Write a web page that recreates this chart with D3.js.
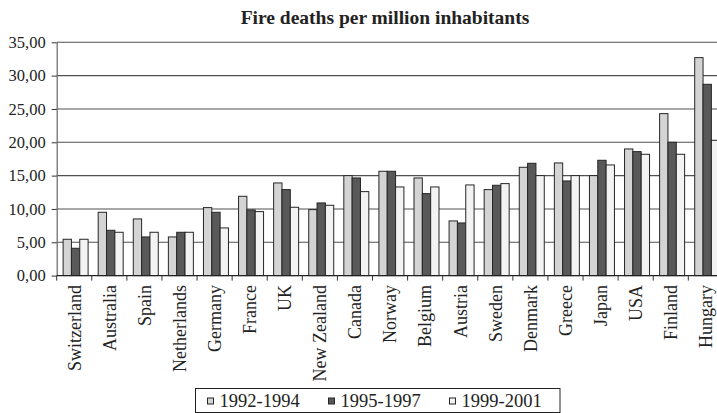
<!DOCTYPE html>
<html>
<head>
<meta charset="utf-8">
<script src="https://cdn.jsdelivr.net/npm/d3@7"></script>
<style>
  html, body { margin: 0; padding: 0; background: #fff; }
  svg { display: block; }
  svg text { font-family: "Liberation Serif", "DejaVu Serif", serif; }
</style>
</head>
<body>
<svg id="chart" width="717" height="413"></svg>
<script>
// Fire deaths per million inhabitants, three periods per country
const countries = ["Switzerland", "Australia", "Spain", "Netherlands", "Germany", "France", "UK",
  "New Zealand", "Canada", "Norway", "Belgium", "Austria", "Sweden", "Denmark", "Greece",
  "Japan", "USA", "Finland", "Hungary"];
const periods = ["1992-1994", "1995-1997", "1999-2001"];
const values1992 = [5.45, 9.5, 8.5, 5.8, 10.2, 11.9, 13.9, 9.9, 15.0, 15.65, 14.65, 8.2, 12.9, 16.25, 16.9, 15.0, 19.0, 24.3, 32.7];
const values1995 = [4.1, 6.8, 5.8, 6.5, 9.5, 9.85, 12.9, 10.9, 14.65, 15.65, 12.3, 7.9, 13.55, 16.85, 14.2, 17.3, 18.6, 20.0, 28.7];
const values1999 = [5.45, 6.5, 6.5, 6.5, 7.15, 9.6, 10.25, 10.55, 12.6, 13.3, 13.3, 13.6, 13.8, 15.0, 15.0, 16.6, 18.2, 18.2, 20.3];
const yTicks = [0, 5, 10, 15, 20, 25, 30, 35];
const yTickLabels = ["0,00", "5,00", "10,00", "15,00", "20,00", "25,00", "30,00", "35,00"];

const seriesValues = [values1992, values1995, values1999];
const fills = ["#d4d4d4", "#595959", "#f3f3f3"];

const svg = d3.select("#chart");
const plotLeft = 56.7, plotRight = 723.4, plotTop = 42.3, plotBottom = 275.6;

const x0 = d3.scaleBand().domain(countries).range([plotLeft, plotRight]).padding(0);
const x1 = d3.scaleBand().domain(periods).range([6.4, 31.4]).padding(0);
const y = d3.scaleLinear().domain([0, 35]).range([plotBottom, plotTop]);

// title
svg.append("text")
  .attr("x", 385).attr("y", 24)
  .attr("text-anchor", "middle")
  .attr("font-weight", "bold")
  .attr("font-size", 19.5)
  .attr("fill", "#222")
  .text("Fire deaths per million inhabitants");

// horizontal grid lines
svg.append("g").selectAll("line")
  .data(yTicks.filter(d => d > 0))
  .join("line")
  .attr("x1", plotLeft).attr("x2", plotRight)
  .attr("y1", d => y(d)).attr("y2", d => y(d))
  .attr("stroke", "#505050").attr("stroke-width", 1.1);

// bars
const groups = svg.append("g").selectAll("g")
  .data(countries)
  .join("g")
  .attr("transform", d => `translate(${x0(d)},0)`);

groups.selectAll("rect")
  .data((c, i) => periods.map((p, k) => ({ period: p, value: seriesValues[k][i], k })))
  .join("rect")
  .attr("x", d => x1(d.period))
  .attr("width", x1.bandwidth())
  .attr("y", d => y(d.value))
  .attr("height", d => y(0) - y(d.value))
  .attr("fill", d => fills[d.k])
  .attr("stroke", "#262626")
  .attr("stroke-width", 1);

// y axis
const yAxis = d3.axisLeft(y)
  .tickValues(yTicks)
  .tickFormat((d, i) => yTickLabels[i])
  .tickSize(5)
  .tickSizeOuter(0);
const gy = svg.append("g").attr("transform", `translate(${plotLeft},0)`).call(yAxis);
gy.attr("font-family", null);
gy.select(".domain").attr("stroke", "#666").attr("stroke-width", 1.2);
gy.selectAll(".tick line").attr("stroke", "#333");
gy.selectAll(".tick text")
  .attr("x", -11)
  .style("font-family", "'Liberation Serif', serif")
  .attr("font-size", 16.5)
  .attr("fill", "#222");

// x axis
const xTickPositions = countries.map(c => x0(c)).concat([plotRight]);
const gx = svg.append("g");
gx.append("line")
  .attr("x1", plotLeft).attr("x2", plotRight)
  .attr("y1", plotBottom).attr("y2", plotBottom)
  .attr("stroke", "#222").attr("stroke-width", 1.2);
gx.selectAll("line.tk")
  .data(xTickPositions)
  .join("line")
  .attr("class", "tk")
  .attr("x1", d => d).attr("x2", d => d)
  .attr("y1", plotBottom).attr("y2", plotBottom + 5)
  .attr("stroke", "#333");
gx.selectAll("text")
  .data(countries)
  .join("text")
  .attr("transform", d => `translate(${x0(d) + x0.bandwidth() / 2},${plotBottom + 9.5}) rotate(-90)`)
  .attr("dy", "0.35em")
  .attr("text-anchor", "end")
  .attr("font-size", 18)
  .attr("fill", "#222")
  .text(d => d);

// legend
const legend = svg.append("g");
legend.append("rect")
  .attr("x", 195.5).attr("y", 388.5)
  .attr("width", 364.5).attr("height", 24)
  .attr("fill", "#fff").attr("stroke", "#222").attr("stroke-width", 1);
const legendX = [207.5, 328.5, 449.5];
periods.forEach((p, k) => {
  legend.append("rect")
    .attr("x", legendX[k]).attr("y", 398)
    .attr("width", 6).attr("height", 6)
    .attr("fill", fills[k]).attr("stroke", "#262626").attr("stroke-width", 1);
  legend.append("text")
    .attr("x", legendX[k] + 12).attr("y", 406.7)
    .attr("font-size", 18.5)
    .attr("fill", "#222")
    .text(p);
});
</script>
</body>
</html>
